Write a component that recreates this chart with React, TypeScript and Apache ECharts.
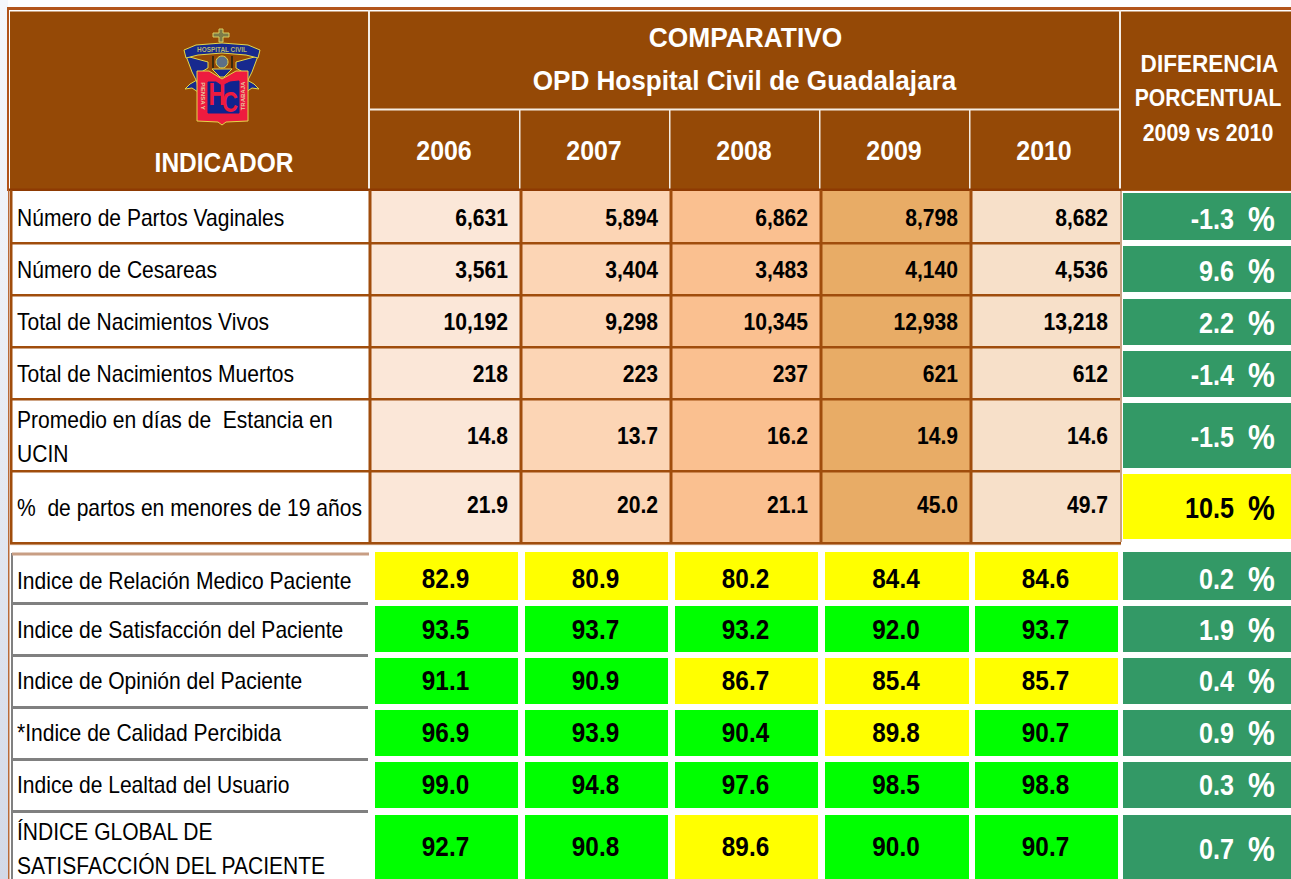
import React, { useEffect, useRef } from "react";
import * as echarts from "echarts";

// ---------- data ----------
const indicators = [
  "Número de Partos Vaginales",
  "Número de Cesareas",
  "Total de Nacimientos Vivos",
  "Total de Nacimientos Muertos",
  "Promedio en días de  Estancia en\nUCIN",
  "%  de partos en menores de 19 años",
  "Indice de Relación Medico Paciente",
  "Indice de Satisfacción del Paciente",
  "Indice de Opinión del Paciente",
  "*Indice de Calidad Percibida",
  "Indice de Lealtad del Usuario",
  "ÍNDICE GLOBAL DE\nSATISFACCIÓN DEL PACIENTE",
];
const years = ["2006", "2007", "2008", "2009", "2010"];
const v2006 = [6631, 3561, 10192, 218, 14.8, 21.9, 82.9, 93.5, 91.1, 96.9, 99.0, 92.7];
const v2007 = [5894, 3404, 9298, 223, 13.7, 20.2, 80.9, 93.7, 90.9, 93.9, 94.8, 90.8];
const v2008 = [6862, 3483, 10345, 237, 16.2, 21.1, 80.2, 93.2, 86.7, 90.4, 97.6, 89.6];
const v2009 = [8798, 4140, 12938, 621, 14.9, 45.0, 84.4, 92.0, 85.4, 89.8, 98.5, 90.0];
const v2010 = [8682, 4536, 13218, 612, 14.6, 49.7, 84.6, 93.7, 85.7, 90.7, 98.8, 90.7];
const diffs = ["-1.3", "9.6", "2.2", "-1.4", "-1.5", "10.5", "0.2", "1.9", "0.4", "0.9", "0.3", "0.7"];
const byYear = [v2006, v2007, v2008, v2009, v2010];
const integerRows = 4;
const upperRows = 6;
const satisfactionGoal = 90;

// ---------- layout and styles ----------
const FONT = '"Liberation Sans", Arial, sans-serif';
const BROWN = "#954906";
const LINE = "#A04D0C";
const heatColors = ["#FBE7D8", "#FCD5B5", "#FAC090", "#E8AC66", "#F7E0C9"];
const upperColEdges = [370, 521, 671, 821, 971, 1121];
const upperRowEdges = [191, 243, 295, 347, 399, 471, 543];
const upperRight = [508, 658, 808, 958, 1108];
const lowerCols = [[375, 518], [525, 668], [675, 818], [825, 969], [975, 1118]];
const lowerRowSpans = [[552, 600], [606, 652], [658, 704], [710, 756], [762, 808], [815, 879]];
const lowerTextY = [579, 630, 681, 733, 785, 847];
const diffSpans = [[193, 240], [246, 292], [299, 345], [351, 397], [403, 468], [474, 539], ...lowerRowSpans];
const diffTextY = [219, 271, 323, 375, 437, 508, 579, 630, 681, 733, 785, 849];
const labelY = [218, 270, 322, 374, 437, 508, 581, 630, 681, 733, 785, 849];
const labelLineGap = 34;
const yearCenters = [444, 594, 744, 894, 1044];

const txt = (x: number, y: number, text: string, size: number, bold: boolean, fill: string, align: string, sx = 0.86) => ({
  type: "text",
  x,
  y,
  scaleX: sx,
  silent: true,
  style: {
    text,
    fill,
    fontSize: size,
    fontWeight: bold ? "bold" : "normal",
    fontFamily: FONT,
    align,
    verticalAlign: "middle",
    textAlign: align,
    textVerticalAlign: "middle",
  },
});

const fmt = (row: number, v: number) =>
  row < integerRows ? v.toLocaleString("en-US") : v.toFixed(1);

const rect = (x: number, y: number, w: number, h: number, fill: any, z = 0) => ({
  type: "rect",
  z,
  silent: true,
  shape: { x, y, width: w, height: h },
  style: { fill },
});

function logo() {
  const gold = "#E3D84A";
  const navy = "#17298E";
  const red = "#EE1B3F";
  const poly = (points: number[][], fill: string, stroke = gold, lineWidth = 1) => ({
    type: "polygon",
    z: 3,
    silent: true,
    shape: { points },
    style: { fill, stroke, lineWidth },
  });
  const both = (points: number[][], fill: string) => [
    poly(points, fill),
    poly(points.map(([x, y]) => [444 - x, y]), fill),
  ];
  const small = (x: number, y: number, text: string, rotation: number, size = 6) => ({
    type: "text", z: 4, x, y, rotation, silent: true,
    style: { text, fill: "#E8C8A0", fontSize: size, fontWeight: "bold", fontFamily: FONT, align: "center", verticalAlign: "middle" },
  });
  return [
    // cross
    poly([[219, 29], [223, 29], [223, 33], [229, 33], [229, 37], [223, 37], [223, 42], [219, 42], [219, 37], [213, 37], [213, 33], [219, 33]], "#7C7C48", "#D8D060"),
    // wings and tails of the ribbon
    ...both([[190, 84], [197, 80], [198, 92], [192, 88], [185, 89]], navy),
    ...both([[186, 56], [208, 62], [208, 68], [198, 74], [198, 84], [192, 72]], navy),
    // banner
    poly([[184, 50], [196, 45], [222, 43], [248, 45], [260, 50], [258, 58], [246, 55], [222, 53], [198, 55], [186, 58]], navy),
    {
      type: "text", z: 4, x: 222, y: 49.5, scaleX: 0.8, silent: true,
      style: { text: "HOSPITAL CIVIL", fill: "#B8B870", fontSize: 8, fontWeight: "bold", fontFamily: FONT, align: "center", verticalAlign: "middle" },
    },
    // helmet
    { type: "circle", z: 3, silent: true, shape: { cx: 222, cy: 62, r: 6 }, style: { fill: "#5C7088", stroke: gold, lineWidth: 1 } },
    poly([[212, 69], [232, 69], [224, 77], [220, 77]], navy),
    rect(212, 56, 2, 12, "#3A2A10", 3),
    rect(231, 56, 2, 12, "#3A2A10", 3),
    // shield
    poly([[197, 71], [209, 71], [222, 79], [236, 71], [248, 71], [248, 121], [226, 122], [222, 125], [218, 122], [197, 121]], red),
    poly([[208, 82], [216, 82], [222, 86], [230, 82], [239, 81], [239, 113], [208, 113]], "#10238F", "#10238F"),
    small(203, 96, "PIENSA Y", -Math.PI / 2),
    small(243, 96, "TRABAJA", Math.PI / 2),
    {
      type: "text", z: 4, x: 217, y: 94, scaleX: 0.74, silent: true,
      style: { text: "H", fill: red, fontSize: 32, fontWeight: "bold", fontFamily: FONT, align: "center", verticalAlign: "middle" },
    },
    {
      type: "text", z: 5, x: 230, y: 101.5, scaleX: 0.74, silent: true,
      style: { text: "C", fill: red, fontSize: 30, fontWeight: "bold", fontFamily: FONT, align: "center", verticalAlign: "middle" },
    },
  ];
}

function frame() {
  const out: any[] = [];
  // page tint
  out.push(rect(0, 0, 8, 879, {
    type: "linear", x: 0, y: 0, x2: 0, y2: 1,
    colorStops: [{ offset: 0, color: "#F4F6FB" }, { offset: 0.3, color: "#EEF1F7" }, { offset: 1, color: "#D3D9E7" }],
  }));
  out.push(rect(8, 0, 1283, 8, "#FDFDFE"));
  // header
  out.push(rect(7, 7, 1284, 184, "#B1531A", 1));
  out.push(rect(9, 10, 1282, 180, "#FFFFFF", 1));
  out.push(rect(10, 11.5, 1281, 178.5, BROWN, 1));
  out.push(rect(368, 10, 2, 179, "#F5EDE4", 2));
  out.push(rect(369, 108.5, 751, 2, "#F5EDE4", 2));
  for (const x of [519, 669, 819, 969]) out.push(rect(x, 110, 1.5, 79, "#F5EDE4", 2));
  out.push(rect(1119, 10, 2, 179, "#F5EDE4", 2));
  out.push(rect(9, 188.5, 1112, 2.5, "#8E3A02", 3));
  // left edge
  out.push(rect(8, 190, 1.5, 689, "#B96A38", 2));
  out.push(rect(10, 190, 2.5, 354, LINE, 5));
  out.push(rect(11, 553, 2, 326, "#808080", 5));
  // grid of the upper table
  for (const x of upperColEdges.slice(0, 5)) out.push(rect(x - 1.5, 190, 3, 354, LINE, 5));
  for (const y of upperRowEdges.slice(1)) out.push(rect(10, y - 1, 1111, 2.6, LINE, 5));
  out.push(rect(10, 544, 1111, 1.2, "#E4CDBA", 4));
  out.push(rect(1120, 191, 2, 351, "#C9A183", 5));
  // rules of the lower labels
  out.push(rect(12, 552.5, 357, 3, "#C89E84", 5));
  for (const y of [602, 654, 706, 758, 810]) out.push(rect(12, y, 356, 3, "#808080", 5));
  // header texts
  const w = "#FFFFFF";
  out.push({ ...txt(745.5, 37, "COMPARATIVO", 28, true, w, "center", 0.94), z: 6 });
  out.push({ ...txt(744.5, 80, "OPD Hospital Civil de Guadalajara", 28, true, w, "center", 0.933), z: 6 });
  out.push({ ...txt(224, 162, "INDICADOR", 28, true, w, "center", 0.875), z: 6 });
  out.push({ ...txt(1209.5, 64, "DIFERENCIA", 24, true, w, "center", 0.94), z: 6 });
  out.push({ ...txt(1208, 98, "PORCENTUAL", 24, true, w, "center", 0.88), z: 6 });
  out.push({ ...txt(1208, 133, "2009 vs 2010", 24, true, w, "center", 0.89), z: 6 });
  years.forEach((yr, i) => out.push({ ...txt(yearCenters[i], 150, yr, 28, true, w, "center", 0.89), z: 6 }));
  return [...out, ...logo()];
}

// ---------- series ----------
const renderCell = (_p: any, api: any) => {
  const col = api.value(0);
  const row = api.value(1);
  const v = api.value(2);
  const upper = row < upperRows;
  if (upper) {
    const a = api.coord([upperColEdges[col], upperRowEdges[row]]);
    const b = api.coord([upperColEdges[col + 1], upperRowEdges[row + 1]]);
    const r = api.coord([upperRight[col], (upperRowEdges[row] + upperRowEdges[row + 1]) / 2]);
    return {
      type: "group",
      children: [
        { type: "rect", shape: { x: a[0], y: a[1], width: b[0] - a[0], height: b[1] - a[1] }, style: { fill: heatColors[col] } },
        txt(r[0], r[1] + (row === 5 ? -2 : 1), fmt(row, v), 24, true, "#000", "right", 0.88),
      ],
    };
  }
  const i = row - upperRows;
  const a = api.coord([lowerCols[col][0], lowerRowSpans[i][0]]);
  const b = api.coord([lowerCols[col][1], lowerRowSpans[i][1]]);
  const cy = api.coord([0, lowerTextY[i]])[1];
  return {
    type: "group",
    children: [
      { type: "rect", shape: { x: a[0], y: a[1], width: b[0] - a[0], height: b[1] - a[1] }, style: { fill: v >= satisfactionGoal ? "#00FF00" : "#FFFF00" } },
      txt((a[0] + b[0]) / 2 - 1, cy, fmt(row, v), 27, true, "#000", "center", 0.9),
    ],
  };
};

const renderDiff = (_p: any, api: any) => {
  const row = api.value(0);
  const a = api.coord([1123, diffSpans[row][0]]);
  const b = api.coord([1291, diffSpans[row][1]]);
  const cy = api.coord([0, diffTextY[row]])[1];
  const warn = row === 5;
  const fill = warn ? "#000000" : "#FFFFFF";
  return {
    type: "group",
    children: [
      { type: "rect", shape: { x: a[0], y: a[1], width: b[0] - a[0], height: b[1] - a[1] }, style: { fill: warn ? "#FFFF00" : "#339966" } },
      {
        type: "text",
        x: 1275,
        y: cy,
        scaleX: 0.84,
        silent: true,
        style: {
          text: `{n|${diffs[row]}}  {p|%}`,
          align: "right",
          verticalAlign: "middle",
          textAlign: "right",
          textVerticalAlign: "middle",
          rich: {
            n: { fill, fontSize: 30, fontWeight: "bold", fontFamily: FONT },
            p: { fill, fontSize: 36, fontWeight: "bold", fontFamily: FONT },
          },
          fontSize: 30,
          fontWeight: "bold",
          fontFamily: FONT,
          fill,
        },
      },
    ],
  };
};

const renderLabel = (_p: any, api: any) => {
  const row = api.value(0);
  const lines = indicators[row].split("\n");
  const p = api.coord([17, labelY[row]]);
  const start = p[1] - ((lines.length - 1) * labelLineGap) / 2;
  return {
    type: "group",
    children: lines.map((t: string, i: number) => txt(p[0], start + i * labelLineGap, t, 23, false, "#000", "left", 0.915)),
  };
};

export default function App() {
  const ref = useRef<HTMLDivElement>(null);
  useEffect(() => {
    const chart = echarts.init(ref.current!, undefined, { renderer: "svg" });
    const cellData: number[][] = [];
    byYear.forEach((vals, c) => vals.forEach((v, r) => cellData.push([c, r, v])));
    chart.setOption({
      animation: false,
      backgroundColor: "#FFFFFF",
      grid: { left: 0, top: 0, right: 0, bottom: 0 },
      xAxis: { type: "value", min: 0, max: 1291, show: false },
      yAxis: { type: "value", min: 0, max: 879, inverse: true, show: false },
      graphic: { elements: frame() },
      tooltip: { show: false },
      series: [
        {
          type: "custom",
          name: "valores",
          coordinateSystem: "cartesian2d",
          clip: false,
          z: 2,
          renderItem: renderCell,
          encode: { x: 0, y: 1 },
          data: cellData,
        },
        {
          type: "custom",
          name: "diferencia",
          coordinateSystem: "cartesian2d",
          clip: false,
          z: 2,
          renderItem: renderDiff,
          encode: { x: 0, y: 0 },
          data: diffs.map((_, i) => [i]),
        },
        {
          type: "custom",
          name: "indicador",
          coordinateSystem: "cartesian2d",
          clip: false,
          z: 2,
          renderItem: renderLabel,
          encode: { x: 0, y: 0 },
          data: indicators.map((_, i) => [i]),
        },
      ],
    });
    return () => chart.dispose();
  }, []);
  return <div ref={ref} style={{ position: "absolute", left: 0, top: 0, width: 1291, height: 879 }} />;
}
